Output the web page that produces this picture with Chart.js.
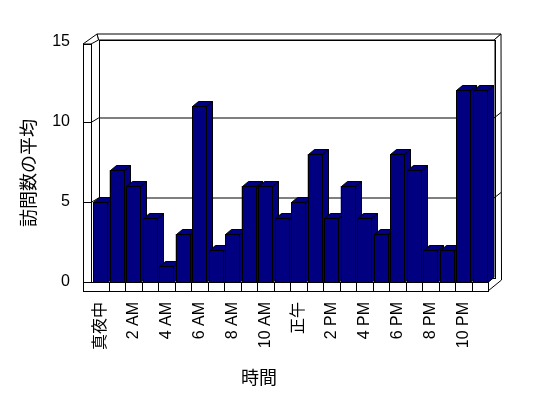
<!DOCTYPE html>
<html>
<head>
<meta charset="utf-8">
<script src="https://cdn.jsdelivr.net/npm/chart.js@4"></script>
<style>
html,body{margin:0;padding:0;background:#fff;}
canvas{display:block;}
</style>
</head>
<body>
<canvas id="c" width="548" height="398"></canvas>
<script>
const hours = ['真夜中','1 AM','2 AM','3 AM','4 AM','5 AM','6 AM','7 AM','8 AM','9 AM','10 AM','11 AM',
               '正午','1 PM','2 PM','3 PM','4 PM','5 PM','6 PM','7 PM','8 PM','9 PM','10 PM','11 PM'];
const visits = [5,7,6,4,1,3,11,2,3,6,6,4,5,8,4,6,4,3,8,7,2,2,12,12];
const yTicks = [0,5,10,15];
const yTitle = '訪問数の平均';
const xTitle = '時間';

const NAVY = '#000080';
const LATIN = "'Liberation Sans', 'Noto Sans CJK JP', sans-serif";
const CJK = "'Noto Sans CJK JP', sans-serif";

function poly(ctx, pts, fill) {
  ctx.beginPath();
  ctx.moveTo(pts[0][0], pts[0][1]);
  for (let i = 1; i < pts.length; i++) ctx.lineTo(pts[i][0], pts[i][1]);
  ctx.closePath();
  if (fill) { ctx.fillStyle = fill; ctx.fill(); }
  ctx.stroke();
}
function line(ctx, x1, y1, x2, y2) {
  ctx.beginPath(); ctx.moveTo(x1, y1); ctx.lineTo(x2, y2); ctx.stroke();
}

const frame3d = {
  id: 'frame3d',
  beforeDatasetsDraw(chart) {
    const ctx = chart.ctx;
    const ys = chart.scales.y, xs = chart.scales.x;
    const L = chart.chartArea.left, R = chart.chartArea.right;
    const y0 = ys.getPixelForValue(0), yT = ys.getPixelForValue(yTicks[yTicks.length-1]);
    const bdx = 6.5, bdy = 4.5;
    ctx.save();
    ctx.lineWidth = 1;
    ctx.strokeStyle = '#000';
    // back wall top face
    poly(ctx, [[L+bdx, yT-2], [R+6, yT-2], [R+13, yT-8], [L+5, yT-8]], '#fff');
    // right side of back wall + floor
    poly(ctx, [[R+6, yT-2], [R+13, yT-8], [R+13.5, y0-2], [R, y0+9], [R, y0], [R+6, y0-bdy]], '#fff');
    line(ctx, R, y0, R+6, y0-bdy);
    // back wall front face
    ctx.fillStyle = '#fff';
    ctx.fillRect(L+bdx, yT-2, R+6-(L+bdx), y0-bdy-(yT-2));
    ctx.strokeRect(Math.round(L+bdx)+0.5, Math.round(yT-2)+0.5, Math.round(R+6-(L+bdx)), Math.round(y0-bdy-(yT-2)));
    // left wall top face
    poly(ctx, [[L-9, yT+2], [L-1, yT+2], [L+bdx, yT-2], [L+5, yT-8]], '#fff');
    // left wall front face
    ctx.fillRect(L-9, yT+2, 8, y0-(yT+2));
    ctx.strokeRect(Math.round(L-9)+0.5, Math.round(yT+2)+0.5, 8, Math.round(y0-(yT+2)));
    // gridlines on walls
    for (const v of yTicks) {
      if (v === 0 || v === yTicks[yTicks.length-1]) continue;
      const py = Math.round(ys.getPixelForValue(v)) + 0.5;
      line(ctx, L+bdx, py-bdy, R+6, py-bdy);
      line(ctx, L-9, py, L-1, py);
      line(ctx, L-1, py, L+bdx, py-bdy);
      line(ctx, R+6, py-bdy, R+13, py-10);
    }
    // floor front face with category dividers
    ctx.fillStyle = '#fff';
    ctx.fillRect(L-9, y0, R-(L-9), 9);
    ctx.strokeRect(Math.round(L-9)+0.5, Math.round(y0)+0.5, Math.round(R-(L-9)), 9);
    const n = hours.length;
    for (let i = 1; i < n; i++) {
      const px = Math.round((xs.getPixelForValue(i-1) + xs.getPixelForValue(i)) / 2) + 0.5;
      line(ctx, px, y0, px, y0+9);
    }
    ctx.restore();
  },
  afterDatasetsDraw(chart) {
    const ctx = chart.ctx;
    const meta = chart.getDatasetMeta(0);
    const dx = 6, dy = 5;
    ctx.save();
    ctx.lineWidth = 1;
    ctx.strokeStyle = '#000';
    ctx.fillStyle = NAVY;
    meta.data.forEach(el => {
      const p = el.getProps(['x','y','base','width'], true);
      const l = Math.round(p.x - p.width/2) + 0.5;
      const r = Math.round(p.x + p.width/2) + 0.5;
      const t = Math.round(p.y) + 0.5;
      const b = Math.round(p.base) + 0.5;
      // side face
      poly(ctx, [[r, t], [r+dx, t-dy], [r+dx, b-dy], [r, b]], NAVY);
      // top face
      poly(ctx, [[l, t], [r, t], [r+dx, t-dy], [l+dx, t-dy]], NAVY);
      // front face
      poly(ctx, [[l, t], [r, t], [r, b], [l, b]], NAVY);
    });
    ctx.restore();
  },
  afterDraw(chart) {
    const ctx = chart.ctx;
    ctx.save();
    ctx.fillStyle = '#000';
    ctx.font = '18px ' + CJK;
    ctx.textAlign = 'center';
    ctx.textBaseline = 'middle';
    ctx.fillText(xTitle, 259, 377);
    ctx.translate(28, 173);
    ctx.rotate(-Math.PI/2);
    ctx.fillText(yTitle, 0, 0);
    ctx.restore();
  }
};

new Chart(document.getElementById('c'), {
  type: 'bar',
  data: {
    labels: hours,
    datasets: [{
      data: visits,
      backgroundColor: NAVY,
      borderWidth: 0,
      barPercentage: 0.85,
      categoryPercentage: 1.0
    }]
  },
  options: {
    responsive: false,
    devicePixelRatio: 1,
    animation: false,
    layout: { padding: { left: 0, top: 42, right: 60, bottom: 0 } },
    plugins: { legend: { display: false }, tooltip: { enabled: false } },
    scales: {
      y: {
        min: 0, max: 15,
        afterBuildTicks: s => { s.ticks = yTicks.map(v => ({ value: v })); },
        afterFit: s => { s.width = 92; },
        grid: { display: false, drawTicks: false },
        border: { display: false },
        ticks: { padding: 22, color: '#000', font: { family: LATIN, size: 16 } }
      },
      x: {
        afterFit: s => { s.height = 116; },
        grid: { display: false, drawTicks: false },
        border: { display: false },
        ticks: {
          autoSkip: false, minRotation: 90, maxRotation: 90, padding: 20,
          color: '#000', font: { family: LATIN, size: 16 },
          callback: (v, i) => (i % 2 === 0 ? hours[i] : '')
        }
      }
    }
  },
  plugins: [frame3d]
});
</script>
</body>
</html>
